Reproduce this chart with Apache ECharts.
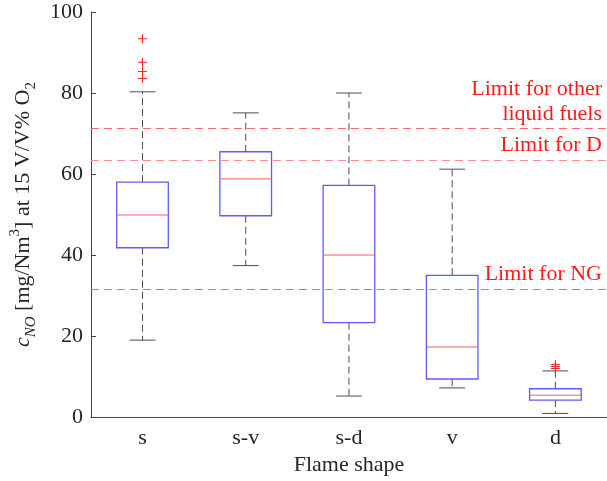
<!DOCTYPE html>
<html>
<head>
<meta charset="utf-8">
<script src="https://cdn.jsdelivr.net/npm/echarts@6/dist/echarts.min.js"></script>
<style>html,body{margin:0;padding:0;background:#fff;}#c{width:607px;height:481px;}</style>
</head>
<body>
<div id="c"></div>
<script>
var categories = ['s', 's-v', 's-d', 'v', 'd'];
var whiskerLow = [19.0, 37.4, 5.2, 7.2, 0.9];
var q1 = [41.8, 49.7, 23.3, 9.4, 4.2];
var median = [49.9, 58.8, 40.0, 17.3, 5.4];
var q3 = [58.0, 65.5, 57.2, 35.0, 7.0];
var whiskerHigh = [80.3, 75.1, 80.0, 61.2, 11.4];
var outlierCat = [0, 0, 0, 0, 4, 4, 4];
var outlierVal = [93.4, 87.6, 85.3, 83.6, 13.0, 12.5, 12.0];
var limitNames = ['Limit for other\nliquid fuels', 'Limit for D', 'Limit for NG'];
var limitValues = [71.2, 63.5, 31.6];
var yTicks = [0, 20, 40, 60, 80, 100];

var FONT = 'Liberation Serif';
var FS = 22;
var boxData = categories.map(function (c, i) {
  return [i, whiskerLow[i], q1[i], median[i], q3[i], whiskerHigh[i]];
});
var outData = outlierCat.map(function (c, i) { return [c, outlierVal[i]]; });

function renderBox(params, api) {
  var i = api.value(0);
  var band = api.size([1, 0])[0];
  var half = band * 0.25;
  var cap = band * 0.125;
  var pLow = api.coord([i, api.value(1)]);
  var pQ1 = api.coord([i, api.value(2)]);
  var pMed = api.coord([i, api.value(3)]);
  var pQ3 = api.coord([i, api.value(4)]);
  var pHigh = api.coord([i, api.value(5)]);
  var x = pQ1[0];
  var wStyle = { stroke: '#4d4d4d', lineWidth: 1, lineDash: [7, 4] };
  var cStyle = { stroke: '#4d4d4d', lineWidth: 1 };
  return {
    type: 'group',
    children: [
      { type: 'line', shape: { x1: x, y1: pQ3[1], x2: x, y2: pHigh[1] }, style: wStyle },
      { type: 'line', shape: { x1: x, y1: pQ1[1], x2: x, y2: pLow[1] }, style: wStyle },
      { type: 'line', shape: { x1: x - cap, y1: pHigh[1], x2: x + cap, y2: pHigh[1] }, style: cStyle },
      { type: 'line', shape: { x1: x - cap, y1: pLow[1], x2: x + cap, y2: pLow[1] }, style: cStyle },
      { type: 'rect', shape: { x: x - half, y: pQ3[1], width: half * 2, height: pQ1[1] - pQ3[1] },
        style: { fill: '#fff', stroke: '#5c5cff', lineWidth: 1.3 } },
      { type: 'line', shape: { x1: x - half, y1: pMed[1], x2: x + half, y2: pMed[1] },
        style: { stroke: '#ff5c5c', lineWidth: 1 } }
    ]
  };
}

function renderOut(params, api) {
  var p = api.coord([api.value(0), api.value(1)]);
  var s = 4.5;
  var st = { stroke: '#ff2020', lineWidth: 1 };
  return {
    type: 'group',
    children: [
      { type: 'line', shape: { x1: p[0] - s, y1: p[1], x2: p[0] + s, y2: p[1] }, style: st },
      { type: 'line', shape: { x1: p[0], y1: p[1] - s, x2: p[0], y2: p[1] + s }, style: st }
    ]
  };
}

var chart = echarts.init(document.getElementById('c'), null, { renderer: 'canvas' });
var lblColor = '#262626';
chart.setOption({
  animation: false,
  backgroundColor: '#fff',
  grid: { left: 90, top: 12, bottom: 62, width: 519, containLabel: false },
  xAxis: {
    type: 'category',
    data: categories,
    name: 'Flame shape',
    nameLocation: 'middle',
    nameGap: 35,
    nameTextStyle: { fontFamily: FONT, fontSize: FS, color: lblColor },
    axisLine: { lineStyle: { color: '#444', width: 1 } },
    axisTick: { inside: true, alignWithLabel: true, length: 5, lineStyle: { color: '#444' } },
    axisLabel: { fontFamily: FONT, fontSize: FS, color: lblColor, margin: 10 },
    splitLine: { show: false }
  },
  yAxis: {
    type: 'value',
    min: yTicks[0],
    max: yTicks[yTicks.length - 1],
    interval: 20,
    name: '{i|c}{isub|NO}{n| [mg/Nm}{sup|3}{n|] at 15 V/V% O}{sub|2}',
    nameLocation: 'middle',
    nameRotate: 90,
    nameGap: 46,
    nameTextStyle: {
      fontFamily: FONT, fontSize: FS, color: lblColor,
      rich: {
        i: { fontFamily: FONT, fontSize: FS, fontStyle: 'italic', color: lblColor, lineHeight: 31, verticalAlign: 'middle' },
        isub: { fontFamily: FONT, fontSize: 15, fontStyle: 'italic', color: lblColor, lineHeight: 31, verticalAlign: 'bottom' },
        n: { fontFamily: FONT, fontSize: FS, color: lblColor, lineHeight: 31, verticalAlign: 'middle' },
        sup: { fontFamily: FONT, fontSize: 15, color: lblColor, lineHeight: 31, verticalAlign: 'top' },
        sub: { fontFamily: FONT, fontSize: 15, color: lblColor, lineHeight: 31, verticalAlign: 'bottom' }
      }
    },
    axisLine: { show: true, lineStyle: { color: '#444', width: 1 } },
    axisTick: { show: true, inside: true, length: 5, lineStyle: { color: '#444' } },
    axisLabel: { fontFamily: FONT, fontSize: FS, color: lblColor, margin: 8 },
    splitLine: { show: false }
  },
  series: [
    {
      type: 'line',
      data: [],
      silent: true,
      markLine: {
        silent: true,
        symbol: 'none',
        animation: false,
        data: limitValues.map(function (v, i) {
          return {
            yAxis: v,
            name: limitNames[i],
            lineStyle: { color: i === 1 ? '#ff8c8c' : '#ff6666', type: [8, 5], width: 1 }
          };
        }),
        label: {
          show: true,
          position: 'insideEndTop',
          formatter: '{b}',
          color: '#ff1a1a',
          fontFamily: FONT,
          fontSize: FS,
          lineHeight: 25,
          align: 'right',
          distance: [5, 2]
        }
      }
    },
    {
      type: 'custom',
      data: boxData,
      renderItem: renderBox,
      encode: { x: 0, y: [1, 2, 3, 4, 5] },
      z: 3
    },
    {
      type: 'custom',
      data: outData,
      renderItem: renderOut,
      encode: { x: 0, y: 1 },
      z: 4
    }
  ]
});
</script>
</body>
</html>
